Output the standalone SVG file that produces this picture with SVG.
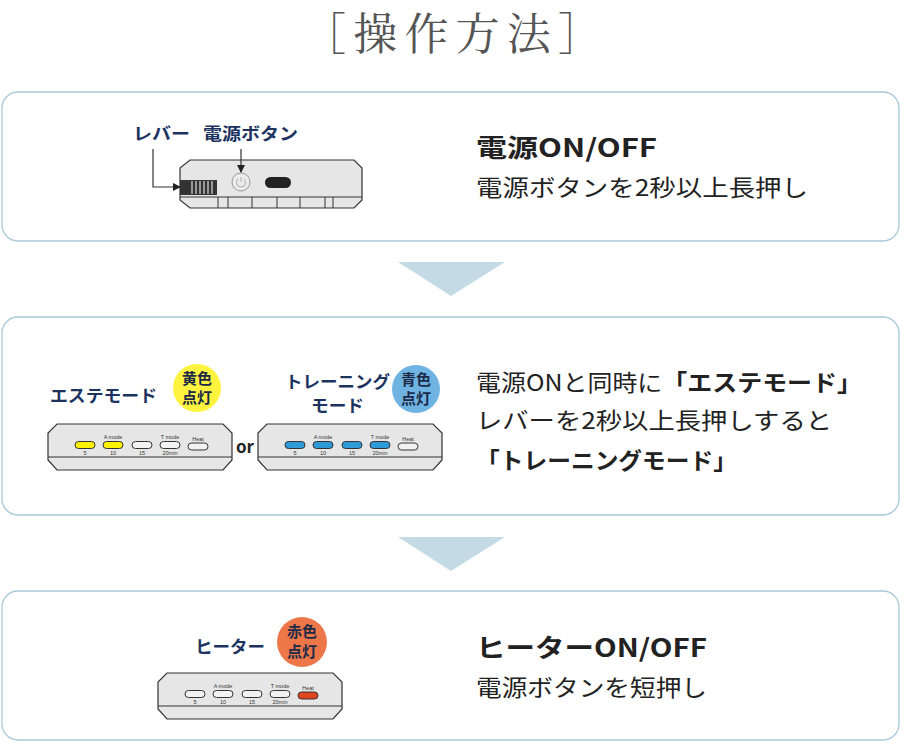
<svg xmlns="http://www.w3.org/2000/svg" width="902" height="742" viewBox="0 0 902 742">
<style>
.panel{fill:#fff;stroke:#a9c8d8;stroke-width:1.3}
.tri{fill:#c4dbe6}
.lbl{font-family:"Noto Sans CJK JP",sans-serif;font-weight:700;font-size:17px;fill:#1c3360}
.bub{font-family:"Noto Sans CJK JP",sans-serif;font-weight:700;font-size:15px;fill:#1c2a48;text-anchor:middle}
.h{font-family:"Noto Sans CJK JP",sans-serif;font-weight:700;font-size:25px;fill:#222}
.t{font-family:"Noto Sans CJK JP",sans-serif;font-size:23px;fill:#222}
.body{fill:#e6e6e6;stroke:#333;stroke-width:1.2}
.sm{font-family:"Liberation Sans",sans-serif;font-size:5.5px;fill:#333;text-anchor:middle}
.led{stroke:#333;stroke-width:1}
.off{fill:#f2f2f2}.y{fill:#fff200}.b{fill:#2e9ad8}.r{fill:#e0451f}
.ln{fill:none;stroke:#333;stroke-width:1.2}
</style>
<defs>
<marker id="ar" markerWidth="8" markerHeight="8" refX="7" refY="4" orient="auto" markerUnits="userSpaceOnUse"><path d="M0,0L8,4L0,8z" fill="#222"/></marker>
<g id="dev">
<polygon class="body" points="9,0 175,0 184,9 184,36 175,46 9,46 0,36 0,9"/>
<line x1="0" y1="33" x2="184" y2="33" stroke="#333" stroke-width="1"/>
<text class="sm" x="65" y="15">A mode</text><text class="sm" x="122" y="15">T mode</text><text class="sm" x="150" y="17">Heat</text>
<text class="sm" x="37" y="31">5</text><text class="sm" x="65" y="31">10</text><text class="sm" x="94" y="31">15</text><text class="sm" x="122" y="31">20min</text>
</g>
</defs>
<text x="452" y="50" text-anchor="middle" font-family="Noto Serif CJK JP,Noto Sans CJK JP,serif" font-size="44" fill="#555" textLength="300" lengthAdjust="spacing">［操作方法］</text>
<g id="panel1">
<rect class="panel" x="2" y="92" width="897" height="149" rx="16"/>
<text class="lbl" x="133" y="140" textLength="57" lengthAdjust="spacingAndGlyphs">レバー</text><text class="lbl" x="203" y="140" textLength="95" lengthAdjust="spacingAndGlyphs">電源ボタン</text>
<polygon class="body" points="190,160 354,160 362,168 362,200 354,208 190,208 180,200 180,168"/>
<rect x="180" y="180" width="37" height="15" fill="#333"/>
<g stroke="#ddd" stroke-width="1.2"><line x1="192" y1="181" x2="192" y2="194"/><line x1="196" y1="181" x2="196" y2="194"/><line x1="200" y1="181" x2="200" y2="194"/><line x1="204" y1="181" x2="204" y2="194"/><line x1="208" y1="181" x2="208" y2="194"/><line x1="212" y1="181" x2="212" y2="194"/></g>
<circle cx="241" cy="182" r="9" fill="#ececec" stroke="#999"/>
<path d="M238,179a4.5,4.5 0 1 0 6,0M241,177v5" fill="none" stroke="#bbb" stroke-width="1.2"/>
<rect x="265" y="177" width="26" height="11" rx="5.5" fill="#222"/>
<line x1="180" y1="197" x2="362" y2="197" stroke="#333"/>
<g stroke="#333"><line x1="218" y1="197" x2="218" y2="208"/><line x1="228" y1="197" x2="228" y2="208"/><line x1="252" y1="197" x2="252" y2="208"/><line x1="277" y1="197" x2="277" y2="208"/><line x1="300" y1="197" x2="300" y2="208"/><line x1="325" y1="197" x2="325" y2="208"/><line x1="333" y1="197" x2="333" y2="208"/></g>
<text class="h" x="476" y="157" textLength="181" lengthAdjust="spacingAndGlyphs">電源ON/OFF</text>
<text class="t" x="476" y="196" textLength="332" lengthAdjust="spacingAndGlyphs">電源ボタンを2秒以上長押し</text>
</g>
<g id="connectors">
<polyline class="ln" points="153,149 153,187 180,187" marker-end="url(#ar)"/>
<line class="ln" x1="241" y1="149" x2="241" y2="172" marker-end="url(#ar)"/>
<polygon class="tri" points="398,262 505,262 451,296"/>
<polygon class="tri" points="398,537 505,537 451,571"/>
</g>
<g id="panel2">
<rect class="panel" x="2" y="317" width="897" height="198" rx="16"/>
<text class="lbl" x="50" y="402" textLength="107" lengthAdjust="spacingAndGlyphs">エステモード</text>
<circle cx="197" cy="388" r="24" fill="#fff33f"/>
<text class="bub" x="197" y="384">黄色</text><text class="bub" x="197" y="403">点灯</text>
<text class="lbl" x="285" y="388" textLength="105" lengthAdjust="spacingAndGlyphs">トレーニング</text><text class="lbl" x="311" y="412" textLength="53" lengthAdjust="spacingAndGlyphs">モード</text>
<circle cx="416" cy="389" r="24" fill="#6fb3e3"/>
<text class="bub" x="416" y="385">青色</text><text class="bub" x="416" y="404">点灯</text>
<g transform="translate(48,424)"><use href="#dev"/>
<rect class="led y" x="27" y="17.5" width="20" height="7" rx="3.5"/><rect class="led y" x="55" y="17.5" width="20" height="7" rx="3.5"/><rect class="led off" x="84" y="17.5" width="20" height="7" rx="3.5"/><rect class="led off" x="112" y="17.5" width="20" height="7" rx="3.5"/><rect class="led off" x="140" y="19" width="20" height="7" rx="3.5"/></g>
<text x="245" y="453" text-anchor="middle" font-family="Noto Sans CJK JP,sans-serif" font-weight="700" font-size="17" fill="#222">or</text>
<g transform="translate(258,424)"><use href="#dev"/>
<rect class="led b" x="27" y="17.5" width="20" height="7" rx="3.5"/><rect class="led b" x="55" y="17.5" width="20" height="7" rx="3.5"/><rect class="led b" x="84" y="17.5" width="20" height="7" rx="3.5"/><rect class="led b" x="112" y="17.5" width="20" height="7" rx="3.5"/><rect class="led off" x="140" y="19" width="20" height="7" rx="3.5"/></g>
<text class="t" x="476" y="391" textLength="386" lengthAdjust="spacingAndGlyphs">電源ONと同時に<tspan font-weight="700">「エステモード」</tspan></text>
<text class="t" x="476" y="429" textLength="356" lengthAdjust="spacingAndGlyphs">レバーを2秒以上長押しすると</text>
<text class="t" x="476" y="469" font-weight="700" textLength="261" lengthAdjust="spacingAndGlyphs">「トレーニングモード」</text>
</g>
<g id="panel3">
<rect class="panel" x="2" y="591" width="897" height="149" rx="16"/>
<text class="lbl" x="195" y="653" textLength="70" lengthAdjust="spacingAndGlyphs">ヒーター</text>
<circle cx="302" cy="642" r="25" fill="#ee7749"/>
<text class="bub" x="302" y="637">赤色</text><text class="bub" x="302" y="657">点灯</text>
<g transform="translate(158,673)"><use href="#dev"/>
<rect class="led off" x="27" y="17.5" width="20" height="7" rx="3.5"/><rect class="led off" x="55" y="17.5" width="20" height="7" rx="3.5"/><rect class="led off" x="84" y="17.5" width="20" height="7" rx="3.5"/><rect class="led off" x="112" y="17.5" width="20" height="7" rx="3.5"/><rect class="led r" x="140" y="19" width="20" height="7" rx="3.5"/></g>
<text class="h" x="476" y="657" textLength="231" lengthAdjust="spacingAndGlyphs">ヒーターON/OFF</text>
<text class="t" x="476" y="696" textLength="231" lengthAdjust="spacingAndGlyphs">電源ボタンを短押し</text>
</g>
</svg>
